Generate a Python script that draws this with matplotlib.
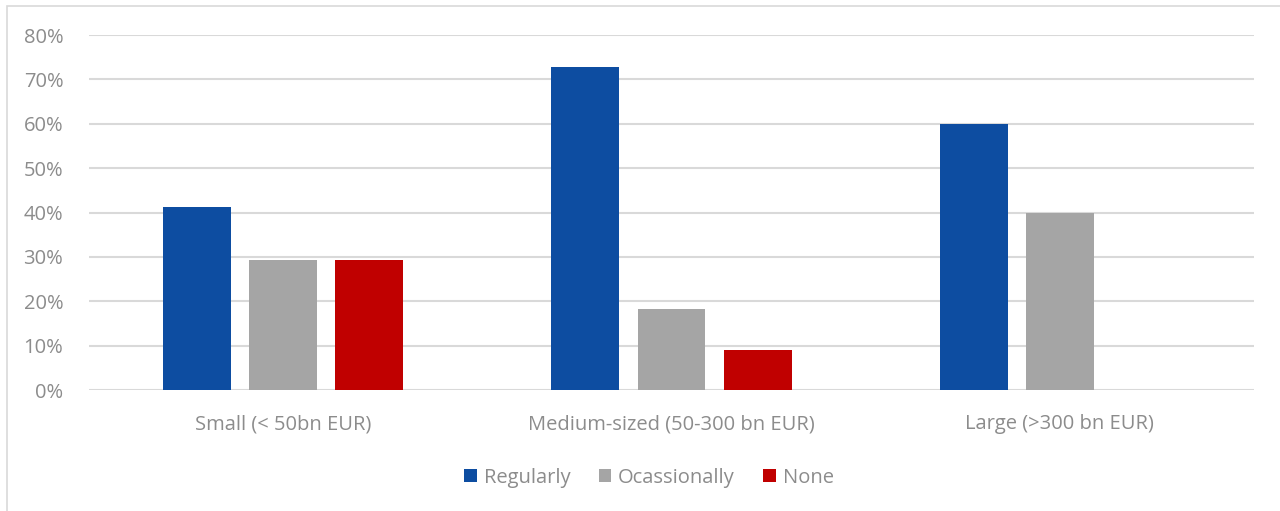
import matplotlib
matplotlib.use("Agg")
import matplotlib.pyplot as plt
import numpy as np
from matplotlib.patches import Rectangle
from matplotlib.ticker import PercentFormatter

plt.rcParams['font.family'] = ['Open Sans', 'DejaVu Sans']

categories = ["Small (< 50bn EUR)", "Medium-sized (50-300 bn EUR)", "Large (>300 bn EUR)"]
series_names = ["Regularly", "Ocassionally", "None"]
regularly = [41.2, 72.7, 60.0]
ocassionally = [29.4, 18.2, 40.0]
none = [29.4, 9.1, 0.0]
colors = ["#0D4DA1", "#A5A5A5", "#C00000"]
y_ticks = [0, 10, 20, 30, 40, 50, 60, 70, 80]

text_color = "#8C8C8C"
grid_color = "#D9D9D9"

fig = plt.figure(figsize=(12.8, 5.11), dpi=100)
ax = fig.add_axes([89 / 1280, 1 - 390 / 511, (1254 - 89) / 1280, (390 - 35) / 511])

# chart frame
fig.patches.append(Rectangle((7 / 1280, -0.1), 1.2, 1 - 6 / 511 + 0.1,
                             transform=fig.transFigure, fill=False,
                             edgecolor=grid_color, linewidth=1.2, zorder=0))

x = np.arange(len(categories))
width = 0.175
offset = 0.222
for i, (vals, name) in enumerate(zip([regularly, ocassionally, none], series_names)):
    ax.bar(x + (i - 1) * offset, vals, width=width, color=colors[i], label=name, zorder=3)

ax.set_xlim(-0.5, 2.5)
ax.set_ylim(0, 80)
ax.set_yticks(y_ticks)
ax.yaxis.set_major_formatter(PercentFormatter(decimals=0))
ax.set_xticks(x)
ax.set_xticklabels(categories)
ax.grid(axis='y', color=grid_color, linewidth=1.5, zorder=0)
ax.tick_params(axis='both', length=0, colors=text_color, labelsize=14.5)
ax.tick_params(axis='x', pad=17.5)
ax.tick_params(axis='y', pad=18.5)
for s in ax.spines.values():
    s.set_visible(False)

leg = fig.legend(loc='center', bbox_to_anchor=(649 / 1280, 1 - 478 / 511), ncol=3,
                 frameon=False, fontsize=14.5, handlelength=0.62, handleheight=0.62,
                 handletextpad=0.35, columnspacing=1.4)
for t in leg.get_texts():
    t.set_color(text_color)

fig.savefig("out.png", dpi=100)
